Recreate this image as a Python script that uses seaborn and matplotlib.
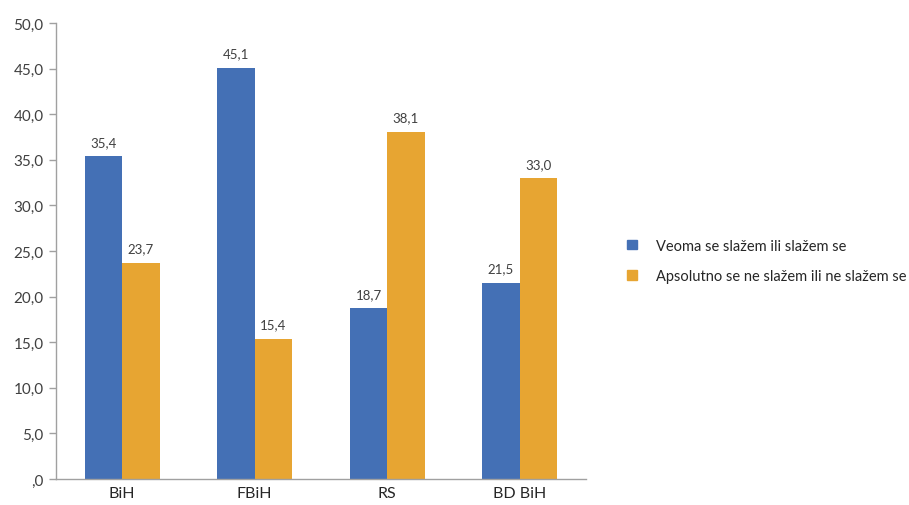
import pandas as pd
import matplotlib.pyplot as plt
import seaborn as sns
from matplotlib.patches import Patch

# Chart data
regions = ['BiH', 'FBiH', 'RS', 'BD BiH']
agree = [35.4, 45.1, 18.7, 21.5]
disagree = [23.7, 15.4, 38.1, 33.0]
series_names = ['Veoma se slažem ili slažem se',
                'Apsolutno se ne slažem ili ne slažem se']
colors = ['#4470B5', '#E7A532']

df = pd.DataFrame({
    'region': regions * 2,
    'value': agree + disagree,
    'series': [series_names[0]] * len(regions) + [series_names[1]] * len(regions),
})

sns.set_style('white')
plt.rcParams['font.family'] = ['Lato', 'DejaVu Sans']

fig = plt.figure(figsize=(9.09, 5.06), dpi=100)
ax = fig.add_axes([56 / 909, 26 / 506, 530 / 909, 456 / 506])

sns.barplot(data=df, x='region', y='value', hue='series', palette=colors,
            width=0.566, gap=0, saturation=1, linewidth=0, ax=ax, legend=False)

for c in ax.containers:
    ax.bar_label(c, labels=[f'{v:.1f}'.replace('.', ',') for v in c.datavalues],
                 padding=6, fontsize=9.5, color='#404040')

# Axes styling
ax.set_ylim(0, 50)
ax.set_yticks(range(0, 51, 5))
ax.set_yticklabels([',0'] + [f'{v},0' for v in range(5, 51, 5)],
                   fontsize=11, color='#404040')
ax.set_xlim(-0.5, 3.5)
ax.set_xticks([-0.5, 0.5, 1.5, 2.5, 3.5])
ax.set_xticklabels([])
ax.set_xticks(range(4), minor=True)
ax.set_xticklabels(regions, minor=True, fontsize=11.5, color='#262626')
ax.tick_params(axis='x', which='major', length=5, color='#A0A0A0', width=1)
ax.tick_params(axis='x', which='minor', length=0, pad=5)
ax.tick_params(axis='y', length=5, color='#A0A0A0', width=1, left=True, pad=4)
ax.set_xlabel('')
ax.set_ylabel('')

for s in ['top', 'right']:
    ax.spines[s].set_visible(False)
for s in ['left', 'bottom']:
    ax.spines[s].set_color('#A0A0A0')
    ax.spines[s].set_linewidth(1)

handles = [Patch(color=c) for c in colors]
fig.legend(handles, series_names, loc='center left',
           bbox_to_anchor=(614 / 909, 1 - 262 / 506), frameon=False,
           fontsize=10.5, handlelength=0.65, handleheight=0.65,
           handletextpad=1.3, labelspacing=1.15, labelcolor='#262626')

fig.savefig('out.png', dpi=100)
